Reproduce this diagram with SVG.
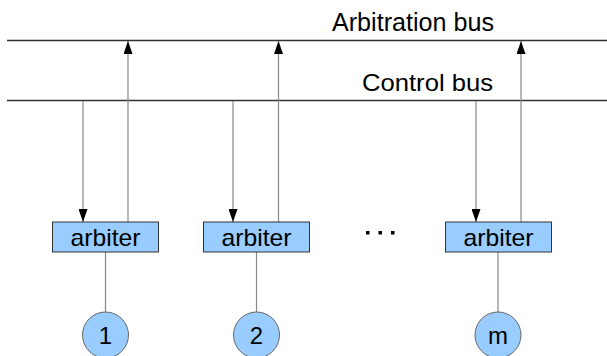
<svg xmlns="http://www.w3.org/2000/svg" width="607" height="356" viewBox="0 0 607 356">
  <defs>
    <marker id="head" viewBox="0 0 13 9" refX="13" refY="4.5" markerWidth="13" markerHeight="9" markerUnits="userSpaceOnUse" orient="auto">
      <path d="M0,0 L13,4.5 L0,9 Z" fill="#000"/>
    </marker>
    <style>
      .bus { stroke: #333; stroke-width: 1.5; fill: none; }
      .wire { stroke: #888; stroke-width: 1.2; fill: none; }
      .box { fill: #99ccff; stroke: #333; stroke-width: 1; }
      .proc { fill: #99ccff; stroke: #666; stroke-width: 1; }
      .lbl { font-family: "Liberation Sans", Arial, sans-serif; fill: #000; }
    </style>
  </defs>
  <rect width="607" height="356" fill="#fff"/>

  <!-- buses -->
  <g id="buses">
    <line class="bus" x1="7" y1="40.5" x2="607" y2="40.5"/>
    <line class="bus" x1="7" y1="100.5" x2="607" y2="100.5"/>
    <text class="lbl" x="332" y="31" font-size="25" textLength="162" lengthAdjust="spacingAndGlyphs">Arbitration bus</text>
    <text class="lbl" x="362" y="91" font-size="24" textLength="131" lengthAdjust="spacingAndGlyphs">Control bus</text>
  </g>

  <!-- connectors -->
  <g id="connectors">
    <line class="wire" x1="83" y1="101" x2="83" y2="222" marker-end="url(#head)"/>
    <line class="wire" x1="128" y1="222" x2="128" y2="41" marker-end="url(#head)"/>
    <line class="wire" x1="233" y1="101" x2="233" y2="222" marker-end="url(#head)"/>
    <line class="wire" x1="278.5" y1="222" x2="278.5" y2="41" marker-end="url(#head)"/>
    <line class="wire" x1="476" y1="101" x2="476" y2="222" marker-end="url(#head)"/>
    <line class="wire" x1="521" y1="222" x2="521" y2="41" marker-end="url(#head)"/>
    <line class="wire" x1="105.5" y1="252" x2="105.5" y2="312"/>
    <line class="wire" x1="256.5" y1="252" x2="256.5" y2="312"/>
    <line class="wire" x1="498" y1="252" x2="498" y2="312"/>
  </g>

  <!-- arbiters -->
  <g id="arbiter1">
    <rect class="box" x="52.5" y="222" width="106" height="30"/>
    <text class="lbl" x="105.5" y="246" font-size="24" text-anchor="middle" textLength="70" lengthAdjust="spacingAndGlyphs">arbiter</text>
  </g>
  <g id="arbiter2">
    <rect class="box" x="203.5" y="222" width="106" height="30"/>
    <text class="lbl" x="256.5" y="246" font-size="24" text-anchor="middle" textLength="70" lengthAdjust="spacingAndGlyphs">arbiter</text>
  </g>
  <g id="arbiterm">
    <rect class="box" x="445.5" y="222" width="106" height="30"/>
    <text class="lbl" x="498.5" y="246" font-size="24" text-anchor="middle" textLength="70" lengthAdjust="spacingAndGlyphs">arbiter</text>
  </g>

  <!-- ellipsis between arbiters -->
  <g id="ellipsis" fill="#000">
    <rect x="366" y="231" width="3.5" height="3.5"/>
    <rect x="378.5" y="231" width="3.5" height="3.5"/>
    <rect x="391" y="231" width="3.5" height="3.5"/>
  </g>

  <!-- processors -->
  <g id="proc1">
    <circle class="proc" cx="105.5" cy="335" r="23"/>
    <text class="lbl" x="105.5" y="343.5" font-size="24" text-anchor="middle">1</text>
  </g>
  <g id="proc2">
    <circle class="proc" cx="256.5" cy="335" r="23"/>
    <text class="lbl" x="256.5" y="343.5" font-size="24" text-anchor="middle">2</text>
  </g>
  <g id="procm">
    <circle class="proc" cx="498" cy="335" r="23"/>
    <text class="lbl" x="498" y="343.5" font-size="24" text-anchor="middle">m</text>
  </g>
</svg>
